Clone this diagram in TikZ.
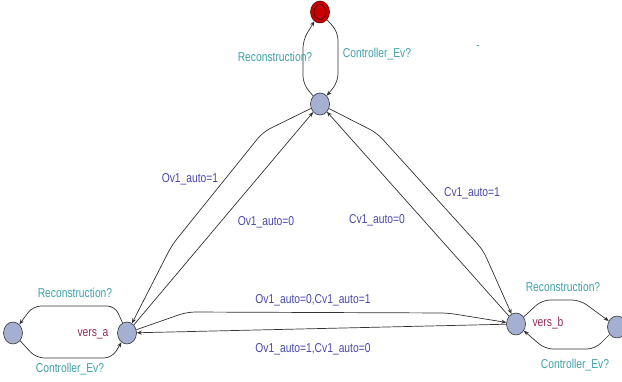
\documentclass[tikz,border=0pt]{standalone}
\usepackage{fontspec}
\setmainfont{Liberation Sans}
\usetikzlibrary{shapes.geometric,arrows.meta}

\definecolor{synccol}{RGB}{64,160,168}
\definecolor{guardcol}{RGB}{72,72,168}
\definecolor{namecol}{RGB}{150,40,90}
\definecolor{locfill}{RGB}{165,175,210}
\definecolor{edgecol}{RGB}{50,50,50}
\definecolor{initred}{RGB}{200,0,0}
\newcommand{\tallt}[1]{\scalebox{1}[1.25]{#1}}

\begin{document}
\begin{tikzpicture}[x=1pt, y=-1pt,
  loc/.style={ellipse, draw=edgecol, fill=locfill, line width=0.6pt, minimum width=19pt, minimum height=22pt, inner sep=0pt},
  sync/.style={text=synccol, font=\fontsize{10.3}{12}\selectfont, inner sep=0pt},
  guard/.style={text=guardcol, font=\fontsize{10.3}{12}\selectfont, inner sep=0pt},
  locname/.style={text=namecol, font=\fontsize{10.3}{12}\selectfont, inner sep=0pt},
  trans/.style={draw=edgecol, line width=0.7pt, rounded corners=8pt, ->, >={Stealth[length=5pt,width=4pt]}}]

% The page is 622 x 382, y grows downwards
\clip (0,0) rectangle (622,382);

% Locations
\node[loc, fill=initred, draw=initred!50!black] (start) at (320,12) {};
\draw[initred!40!black, line width=0.7pt] (start.center) ellipse (6 and 7.5);
\node[loc] (hub)   at (320,104) {};
\node[loc] (versA) at (127,333) {};
\node[loc] (idleA) at (13,333)  {};
\node[loc] (versB) at (516,324) {};
\node[loc] (idleB) at (617,327) {};

% Loop between hub and the initial location
\draw[trans] (hub) -- (303,84) -- (303,40) -- (start);
\draw[trans] (start) -- (338,32) -- (338,82) -- (hub);

% Diagonals
\draw[trans] (hub) -- (263,132) -- (172,245) -- (versA);
\draw[trans] (versA) -- (hub);
\draw[trans] (hub) -- (377,133) -- (483,250) -- (versB);
\draw[trans] (versB) -- (hub);

% Between vers_a and vers_b
\draw[trans] (versA) -- (187,312) -- (448,313) -- (versB);
\draw[trans] (versB) -- (versA);

% Side loops
\draw[trans] (versA) -- (115,306) -- (33,306) -- (idleA);
\draw[trans] (idleA) -- (36,358) -- (112,358) -- (versA);
\draw[trans] (versB) -- (542,300) -- (580,300) -- (idleB);
\draw[trans] (idleB) -- (595,349) -- (545,349) -- (versB);

% labels
\node[sync] (syncR0) at (275,57)  {\tallt{Reconstruction?}};
\node[sync] (syncC0) at (377,54)  {\tallt{Controller\_Ev?}};
\node[sync] (dash)   at (478,48)  {\tallt{-}};
\node[guard] (gO1)  at (190,179) {\tallt{Ov1\_auto=1}};
\node[guard] (gO0)  at (266,222) {\tallt{Ov1\_auto=0}};
\node[guard] (gC0)  at (377,220) {\tallt{Cv1\_auto=0}};
\node[guard] (gC1)  at (472,193) {\tallt{Cv1\_auto=1}};
\node[guard] (gAB)  at (313,300) {\tallt{Ov1\_auto=0,Cv1\_auto=1}};
\node[guard] (gBA)  at (313,349) {\tallt{Ov1\_auto=1,Cv1\_auto=0}};
\node[sync] (syncRA) at (75,293)  {\tallt{Reconstruction?}};
\node[sync] (syncCA) at (70,369)  {\tallt{Controller\_Ev?}};
\node[locname] (nameA) at (93,334) {\tallt{vers\_a}};
\node[sync] (syncRB) at (563,287) {\tallt{Reconstruction?}};
\node[sync] (syncCB) at (575,365) {\tallt{Controller\_Ev?}};
\node[locname] (nameB) at (548,323) {\tallt{vers\_b}};

\end{tikzpicture}
\end{document}
